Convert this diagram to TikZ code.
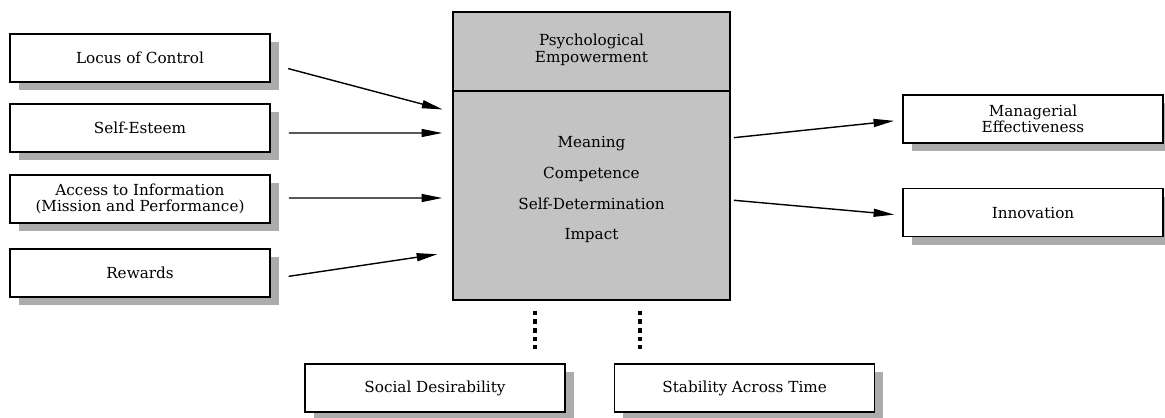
\documentclass[tikz,border=0pt]{standalone}
\usepackage{fontspec}
\setmainfont{DejaVu Serif}
\usetikzlibrary{arrows.meta, positioning, shadows}

\begin{document}
\begin{tikzpicture}[
  box/.style={rectangle, draw, line width=1.4pt, fill=white, minimum width=7.8cm,
              minimum height=1.44cm, align=center, font=\fontsize{13}{13.5}\selectfont,
              drop shadow={shadow xshift=0.26cm, shadow yshift=-0.25cm, fill=gray!65, opacity=1}},
  arr/.style={-{Triangle[length=0.62cm, width=0.24cm]}, line width=1.2pt},
  dotline/.style={line width=0.13cm, dash pattern=on 0.14cm off 0.12cm},
  node distance=0.66cm and 1.44cm
]
\useasboundingbox (0,0) rectangle (34.95,-12.54);

% antecedents
\node[box] (loc)    at (4.2,-1.74) {Locus of Control};
\node[box] (esteem) at (4.2,-3.84) {Self-Esteem};
\node[box] (access) at (4.2,-5.97) {Access to Information\\(Mission and Performance)};
\node[box] (rew)    at (4.2,-8.19) {Rewards};

% central construct
\node[rectangle, draw, line width=1.4pt, fill=gray!47, minimum width=8.31cm,
      minimum height=8.64cm] (pe) at (17.745,-4.68) {};
\draw[line width=1.4pt] ([yshift=-2.4cm]pe.north west) -- ([yshift=-2.4cm]pe.north east);
\node[align=center, font=\fontsize{13}{14}\selectfont] (title)
      at ([yshift=-1.16cm]pe.north) {Psychological\\Empowerment};
\node[align=center, font=\fontsize{13}{26.2}\selectfont] (dims)
      at ([yshift=-5.36cm]pe.north) {Meaning\\Competence\\Self-Determination\\Impact};

% outcomes
\node[box] (manage) at (30.99,-3.57) {Managerial\\Effectiveness};
\node[box, below=1.32cm of manage] (innov) {Innovation};

% validity checks
\node[box] (social) at (13.05,-11.64) {Social Desirability};
\node[box, right=1.44cm of social] (stab) {Stability Across Time};

\draw[arr, shorten <=0.54cm, shorten >=0.3cm] ([yshift=-0.18cm]loc.east) -- ([yshift=1.32cm]pe.west);
\draw[arr, shorten <=0.54cm, shorten >=0.3cm] ([yshift=-0.15cm]esteem.east) -- ([yshift=0.69cm]pe.west);
\draw[arr, shorten <=0.54cm, shorten >=0.3cm] ([yshift=0.03cm]access.east) -- ([yshift=-1.26cm]pe.west);
\draw[arr, shorten <=0.54cm, shorten >=0.45cm] ([yshift=-0.18cm]rew.east) -- ([yshift=-2.88cm]pe.west);

\draw[arr, shorten <=0.09cm, shorten >=0.24cm] ([yshift=0.54cm]pe.east) -- ([yshift=-0.03cm]manage.west);
\draw[arr, shorten <=0.09cm, shorten >=0.24cm] ([yshift=-1.32cm]pe.east) -- ([yshift=-0.08cm]innov.west);

\draw[dotline, shorten <=0.3cm, shorten >=0.42cm]
      ([xshift=-1.695cm]pe.south) -- ([xshift=-1.695cm]pe.south |- social.north);
\draw[dotline, shorten <=0.3cm, shorten >=0.42cm]
      ([xshift=1.455cm]pe.south) -- ([xshift=1.455cm]pe.south |- stab.north);
\end{tikzpicture}
\end{document}
